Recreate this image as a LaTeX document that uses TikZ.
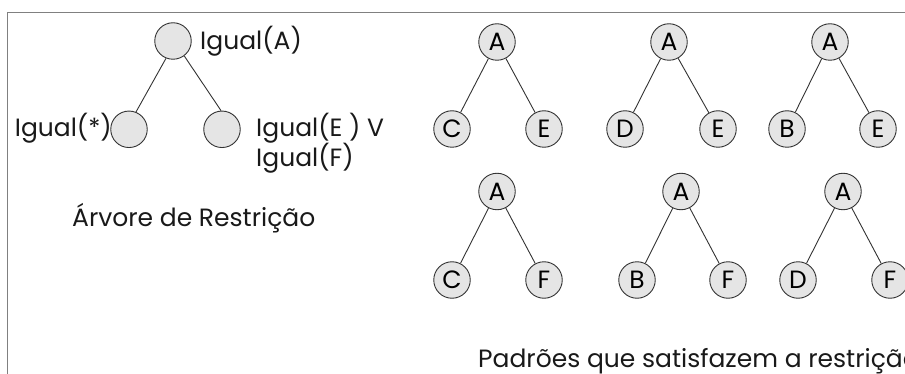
\documentclass[tikz,border=0pt]{standalone}
\usepackage{fontspec}
\setmainfont{Poppins}
\usepackage{tikz}

\begin{document}
\begin{tikzpicture}[
    x=1pt, y=-1pt,
    patnode/.style={circle, draw=black!80, fill=gray!20, line width=0.9pt, minimum size=36.5pt, inner sep=0pt, font=\fontsize{25}{25}\selectfont},
    ruletext/.style={font=\fontsize{25}{30}\selectfont, text=black!90, inner sep=0pt},
    link/.style={draw=black!80, line width=0.9pt}
]
    \useasboundingbox (0,0) rectangle (905,374);
    \clip (0,0) rectangle (905,374);

    % Frame
    \draw[gray, line width=1.3pt] (7.5,400) -- (7.5,12.5) -- (930,12.5);

    % Restriction tree
    \node[patnode] (root) at (173,41) {};
    \node[patnode] (lc) at (129,129.3) {};
    \node[patnode] (rc) at (222,129.3) {};
    \node[ruletext, anchor=base west] (troot) at (200,50) {Igual(A)};
    \node[ruletext, anchor=base east] (tlc) at (112,137) {Igual(*)};
    \node[ruletext, anchor=base west] (trc) at (256,137) {Igual(E ) V};
    \node[ruletext, anchor=base west] (trc2) at (256,167) {Igual(F)};
    \node[ruletext, anchor=base west] (tcap) at (72,227) {Árvore de Restrição};
    \draw[link] (root.248) -- (lc.68);
    \draw[link] (root.307) -- (rc.93);

    % Pattern 1
    \node[patnode] (p1) at (497,42) {A};
    \node[patnode] (p1l) at (452,129) {C};
    \node[patnode] (p1r) at (544,129) {E};
    \draw[link] (p1) -- (p1l);
    \draw[link] (p1) -- (p1r);

    % Pattern 2
    \node[patnode] (p2) at (669,42) {A};
    \node[patnode] (p2l) at (625,129) {D};
    \node[patnode] (p2r) at (718,129) {E};
    \draw[link] (p2) -- (p2l);
    \draw[link] (p2) -- (p2r);

    % Pattern 3
    \node[patnode] (p3) at (830,42) {A};
    \node[patnode] (p3l) at (787,129) {B};
    \node[patnode] (p3r) at (878,129) {E};
    \draw[link] (p3) -- (p3l);
    \draw[link] (p3) -- (p3r);

    % Pattern 4
    \node[patnode] (p4) at (497,191.5) {A};
    \node[patnode] (p4l) at (452,280) {C};
    \node[patnode] (p4r) at (544,280) {F};
    \draw[link] (p4) -- (p4l);
    \draw[link] (p4) -- (p4r);

    % Pattern 5
    \node[patnode] (p5) at (681,191.5) {A};
    \node[patnode] (p5l) at (637,280) {B};
    \node[patnode] (p5r) at (728,280) {F};
    \draw[link] (p5) -- (p5l);
    \draw[link] (p5) -- (p5r);

    % Pattern 6
    \node[patnode] (p6) at (843,191.5) {A};
    \node[patnode] (p6l) at (798,280) {D};
    \node[patnode] (p6r) at (890,280) {F};
    \draw[link] (p6) -- (p6l);
    \draw[link] (p6) -- (p6r);

    \node[ruletext, anchor=base west] (pcap) at (478,367) {Padrões que satisfazem a restrição};

\end{tikzpicture}
\end{document}
